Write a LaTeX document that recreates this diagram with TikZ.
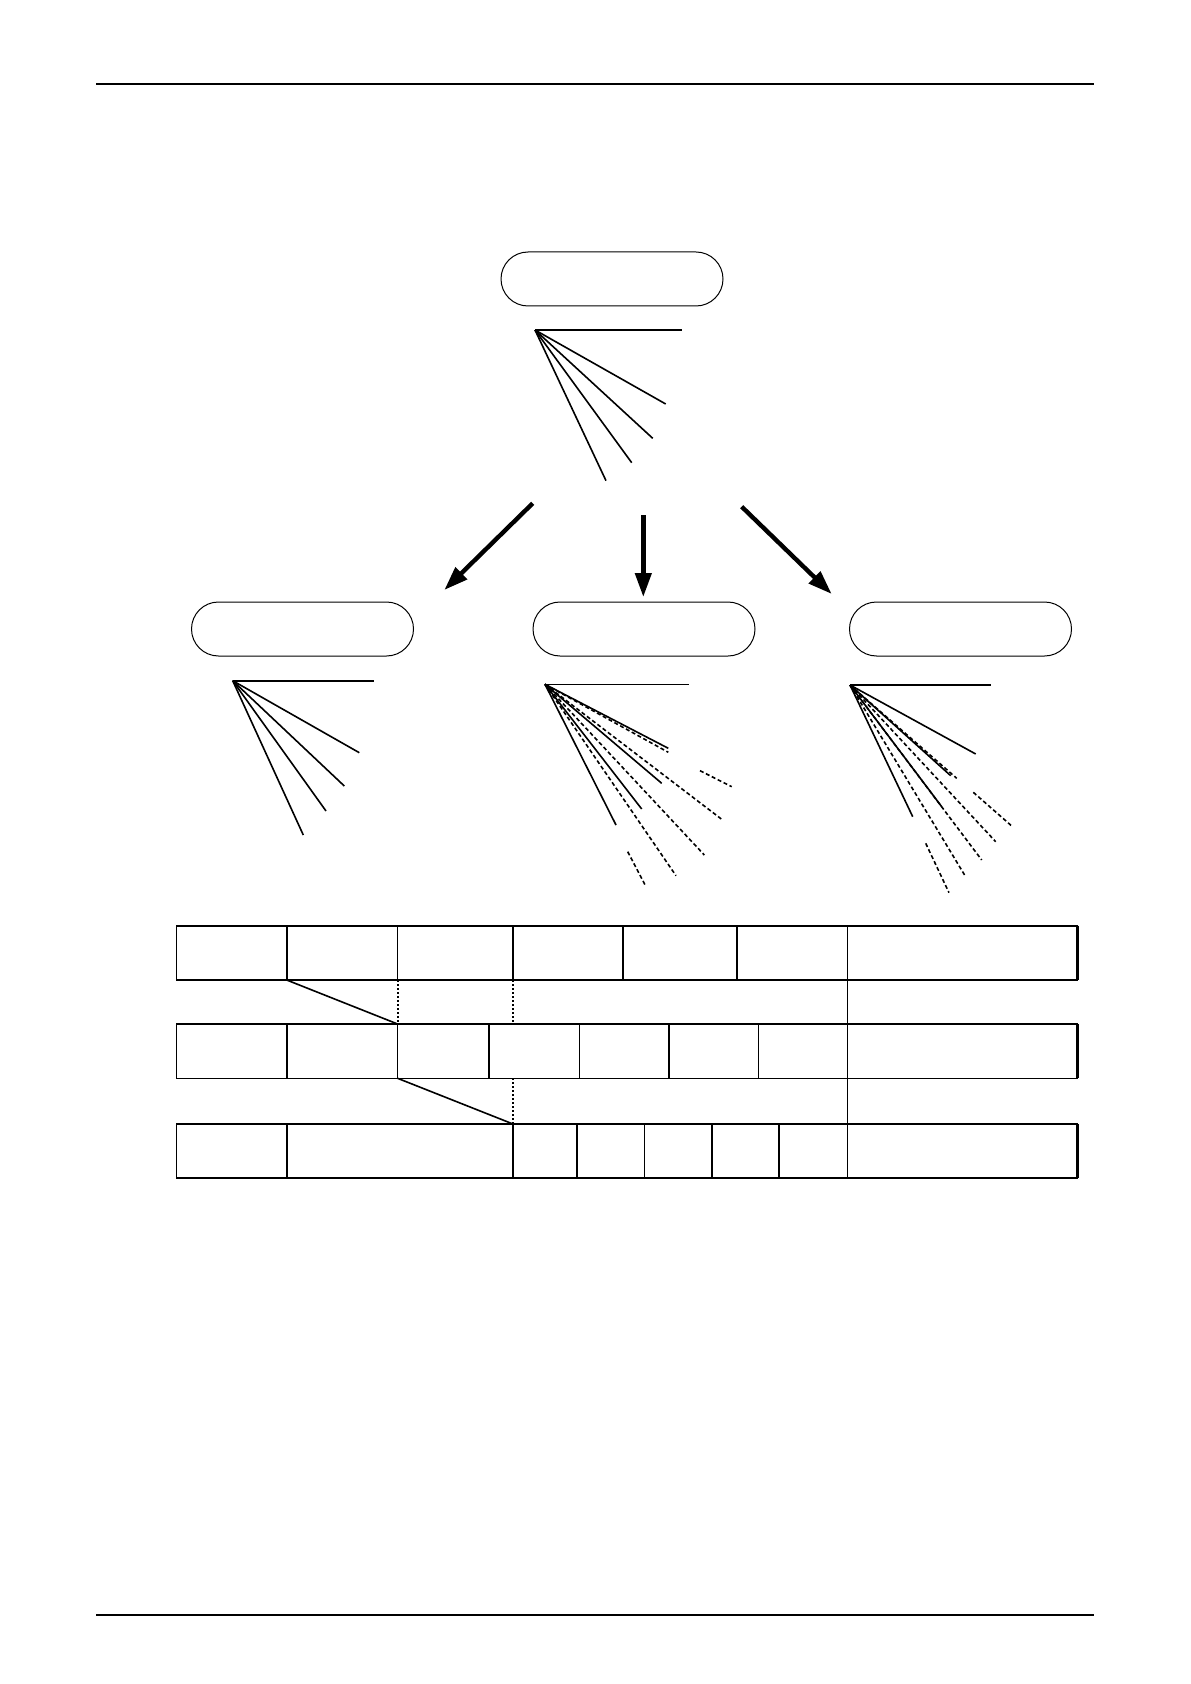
\documentclass[tikz,border=0pt]{standalone}
\usetikzlibrary{arrows.meta,shapes.misc}
\begin{document}
\begin{tikzpicture}[x=0.5pt,y=-0.5pt,
  capsule/.style={draw,rounded rectangle,minimum width=111pt,minimum height=27pt,line width=0.5pt,inner sep=0pt},
  fanline/.style={line width=0.8pt},
  fandash/.style={line width=0.8pt,dash pattern=on 2pt off 1.3pt},
  bigarrow/.style={line width=2.2pt,-{Triangle[length=12pt,width=8pt]}},
  rule/.style={line width=0.8pt},
  cell/.style={line width=0.8pt},
  dotsep/.style={line width=1pt,dash pattern=on 1pt off 1pt},
  thinsep/.style={line width=0.6pt}]
\useasboundingbox (0,0) rectangle (1190,1684);
% header and footer rules
\coordinate (hl) at (96,84.3); \coordinate (hr) at (1094,84.3);
\coordinate (fl) at (96,1615); \coordinate (fr) at (1094,1615);
\draw[rule] (hl) -- (hr);
\draw[rule] (fl) -- (fr);
% capsules
\node[capsule] (top) at (612,279) {};
\node[capsule] (left) at (302.5,629) {};
\node[capsule] (mid) at (644,629) {};
\node[capsule] (right) at (960.5,629) {};
% top fan
\coordinate (T) at (535,330);
\draw[fanline] (T) -- (681.7,330);
\foreach \p in {(665.7,404),(652.7,438.3),(631.7,462.7),(606,480.7)} \draw[fanline] (T) -- \p;
% arrows
\coordinate (a1s) at (532.7,503.3); \coordinate (a1e) at (444.3,590);
\coordinate (a2s) at (643.3,515); \coordinate (a2e) at (643.3,597);
\coordinate (a3s) at (741.7,506.7); \coordinate (a3e) at (831.7,594);
\draw[bigarrow] (a1s) -- (a1e);
\draw[bigarrow] (a2s) -- (a2e);
\draw[bigarrow] (a3s) -- (a3e);
% left fan
\coordinate (L) at (232.7,680.7);
\draw[fanline] (L) -- (374,680.7);
\foreach \p in {(359.3,752.7),(344.3,786),(326,811),(303.3,835)} \draw[fanline] (L) -- \p;
% middle fan
\coordinate (M) at (545,684.3);
\draw[fanline] (M) -- (689,684.3);
\foreach \p in {(668.3,748.3),(661.7,783.3),(641.7,809),(616,825)} \draw[fanline] (M) -- \p;
\foreach \p in {(668.3,752.3),(721.7,819.3),(704.3,855),(676,875.7)} \draw[fandash] (M) -- \p;
\draw[fandash] (700,770.7) -- (731.7,786.7);
\draw[fandash] (627.7,851.7) -- (646,886.7);
% right fan
\coordinate (R) at (850,685);
\draw[fanline] (R) -- (991,685);
\foreach \p in {(975.7,754),(950.7,775.7),(941.7,806.7),(912.7,816.7)} \draw[fanline] (R) -- \p;
\foreach \p in {(956.7,778.3),(995.7,841.7),(981.7,860),(965,875.7)} \draw[fandash] (R) -- \p;
\draw[fandash] (973.3,792.3) -- (1011.7,826);
\draw[fandash] (925.7,843.3) -- (949,892.7);
% table rows
\def\xl{176.5} \def\xr{1077.3}
\draw[cell] (\xl,925.7) rectangle (\xr,980);
\draw[cell] (\xl,1024) rectangle (\xr,1078.3);
\draw[cell] (\xl,1124) rectangle (\xr,1177.7);
\draw[line width=1.4pt] (\xr,925.7) -- (\xr,980) (\xr,1024) -- (\xr,1078.3) (\xr,1124) -- (\xr,1177.7);
\foreach \x in {286.7,397.6,513,622.7,736.7,847.3} \draw[cell] (\x,925.7) -- (\x,980);
\foreach \x in {286.7,397.6,488.9,579.4,669,758.3,847.3} \draw[cell] (\x,1024) -- (\x,1078.3);
\foreach \x in {286.7,513,576.8,644.4,711.9,778.9,847.3} \draw[cell] (\x,1124) -- (\x,1177.7);
% connectors between rows
\coordinate (r1a) at (286.7,980); \coordinate (r2a) at (397.6,1024);
\coordinate (r1b) at (397.6,980); \coordinate (r1c) at (513,980); \coordinate (r2c) at (513,1024);
\coordinate (r1d) at (847.3,980); \coordinate (r2d) at (847.3,1024);
\draw[cell] (r1a) -- (r2a);
\draw[dotsep] (r1b) -- (r2a);
\draw[dotsep] (r1c) -- (r2c);
\draw[thinsep] (r1d) -- (r2d);
\coordinate (s2a) at (397.6,1078.3); \coordinate (s3a) at (513,1124);
\coordinate (s2b) at (513,1078.3);
\coordinate (s2d) at (847.3,1078.3); \coordinate (s3d) at (847.3,1124);
\draw[cell] (s2a) -- (s3a);
\draw[dotsep] (s2b) -- (s3a);
\draw[thinsep] (s2d) -- (s3d);
\end{tikzpicture}
\end{document}
